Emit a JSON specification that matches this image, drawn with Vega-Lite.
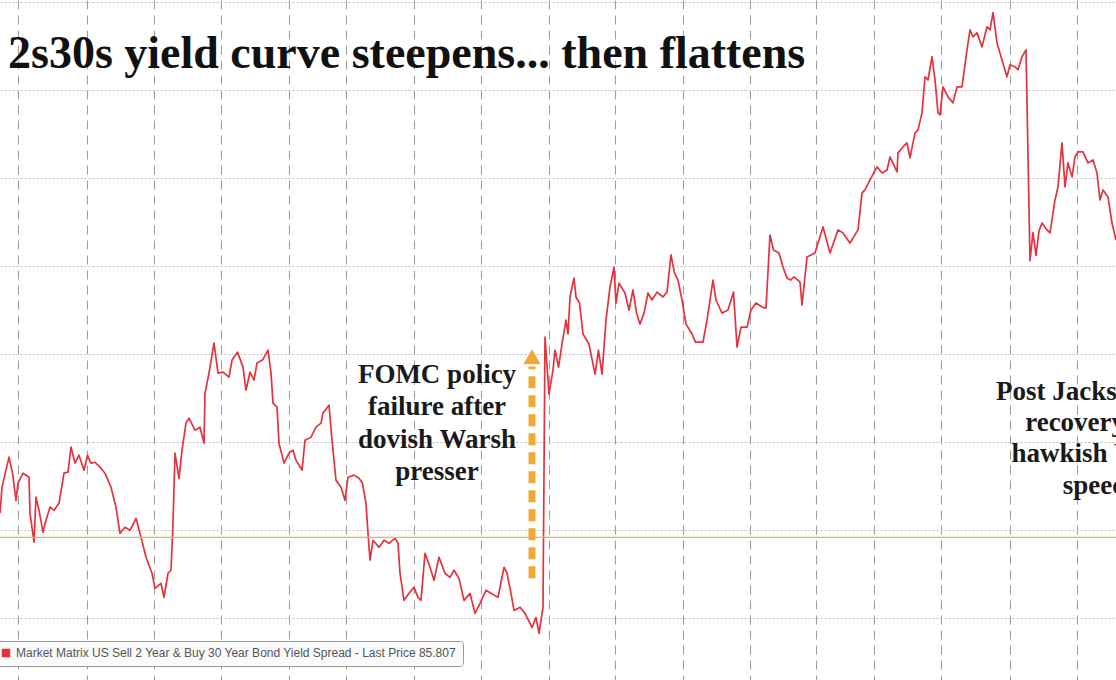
{
  "$schema": "https://vega.github.io/schema/vega-lite/v6.json",
  "width": 1116,
  "height": 680,
  "autosize": {"type": "none"},
  "padding": 0,
  "background": "white",
  "datasets": {
    "spread": [
      {"day": 0, "spread": 65.97}, {"day": 1, "spread": 67.44}, {"day": 4.5, "spread": 69.15}, {"day": 6.25, "spread": 68.24},
      {"day": 8, "spread": 66.7}, {"day": 9, "spread": 67.67}, {"day": 11.5, "spread": 68.24}, {"day": 14.5, "spread": 68.01},
      {"day": 15, "spread": 65.97}, {"day": 17, "spread": 64.32}, {"day": 18, "spread": 66.88}, {"day": 19.5, "spread": 66.14},
      {"day": 21.5, "spread": 64.89}, {"day": 23, "spread": 65.57}, {"day": 25, "spread": 66.31}, {"day": 27, "spread": 66.14},
      {"day": 29.5, "spread": 66.53}, {"day": 32, "spread": 68.24}, {"day": 34, "spread": 68.3}, {"day": 35.5, "spread": 69.72},
      {"day": 37.5, "spread": 68.81}, {"day": 39.5, "spread": 69.26}, {"day": 42, "spread": 68.41}, {"day": 43.75, "spread": 69.26},
      {"day": 45.5, "spread": 68.81}, {"day": 47.5, "spread": 68.86}, {"day": 50, "spread": 68.58}, {"day": 52.5, "spread": 68.24},
      {"day": 55.5, "spread": 67.44}, {"day": 58, "spread": 66.31}, {"day": 60, "spread": 64.83}, {"day": 62.5, "spread": 65.17},
      {"day": 65, "spread": 65.0}, {"day": 68, "spread": 65.68}, {"day": 70.5, "spread": 64.6}, {"day": 73, "spread": 63.47},
      {"day": 76, "spread": 62.56}, {"day": 77.5, "spread": 61.7}, {"day": 80.5, "spread": 61.99}, {"day": 82, "spread": 61.19},
      {"day": 84, "spread": 62.56}, {"day": 85.5, "spread": 62.73}, {"day": 86.5, "spread": 65.4}, {"day": 87.5, "spread": 69.38},
      {"day": 89.5, "spread": 67.95}, {"day": 91, "spread": 69.55}, {"day": 93, "spread": 71.08}, {"day": 94.5, "spread": 71.36},
      {"day": 97.5, "spread": 70.68}, {"day": 100, "spread": 70.85}, {"day": 102, "spread": 69.94}, {"day": 102.5, "spread": 72.78},
      {"day": 104.5, "spread": 73.92}, {"day": 107, "spread": 75.63}, {"day": 109, "spread": 73.92}, {"day": 111.5, "spread": 73.98},
      {"day": 114.5, "spread": 73.69}, {"day": 116, "spread": 74.66}, {"day": 118.75, "spread": 75.11}, {"day": 121.5, "spread": 74.26},
      {"day": 123, "spread": 72.95}, {"day": 125, "spread": 73.98}, {"day": 127, "spread": 73.52}, {"day": 128.5, "spread": 74.49},
      {"day": 131.25, "spread": 74.66}, {"day": 134, "spread": 75.23}, {"day": 135.5, "spread": 73.92}, {"day": 136.5, "spread": 72.22},
      {"day": 138.5, "spread": 71.99}, {"day": 139.5, "spread": 69.94}, {"day": 142, "spread": 68.81}, {"day": 144.5, "spread": 69.38},
      {"day": 146.5, "spread": 69.55}, {"day": 148, "spread": 68.98}, {"day": 151, "spread": 68.41}, {"day": 152.5, "spread": 70.11},
      {"day": 155.5, "spread": 70.28}, {"day": 158, "spread": 70.85}, {"day": 160.5, "spread": 71.08}, {"day": 161.5, "spread": 71.65},
      {"day": 164.5, "spread": 72.1}, {"day": 166, "spread": 70.11}, {"day": 168, "spread": 67.84}, {"day": 170.5, "spread": 67.44},
      {"day": 172.5, "spread": 66.7}, {"day": 174, "spread": 68.01}, {"day": 177, "spread": 68.13}, {"day": 179.5, "spread": 67.95},
      {"day": 181.25, "spread": 67.67}, {"day": 183, "spread": 66.53}, {"day": 184, "spread": 64.83}, {"day": 185, "spread": 63.3},
      {"day": 186.5, "spread": 64.43}, {"day": 189.5, "spread": 64.03}, {"day": 192, "spread": 64.43}, {"day": 194.5, "spread": 64.26},
      {"day": 197.5, "spread": 64.55}, {"day": 199, "spread": 64.26}, {"day": 200, "spread": 62.56}, {"day": 202, "spread": 61.02},
      {"day": 204.5, "spread": 61.42}, {"day": 207, "spread": 61.76}, {"day": 209, "spread": 61.19}, {"day": 210.5, "spread": 61.02},
      {"day": 212.5, "spread": 63.69}, {"day": 215, "spread": 62.9}, {"day": 217, "spread": 62.16}, {"day": 219.5, "spread": 63.47},
      {"day": 222.5, "spread": 62.56}, {"day": 225, "spread": 62.33}, {"day": 227, "spread": 62.73}, {"day": 229.5, "spread": 62.27},
      {"day": 232, "spread": 61.02}, {"day": 235, "spread": 61.42}, {"day": 237.5, "spread": 60.28}, {"day": 240, "spread": 60.85},
      {"day": 243, "spread": 61.59}, {"day": 245.5, "spread": 61.42}, {"day": 249, "spread": 61.19}, {"day": 252, "spread": 62.9},
      {"day": 253.5, "spread": 62.56}, {"day": 255.5, "spread": 61.42}, {"day": 257, "spread": 60.45}, {"day": 260, "spread": 60.63},
      {"day": 262.5, "spread": 60.28}, {"day": 266, "spread": 59.49}, {"day": 268, "spread": 60.06}, {"day": 269.5, "spread": 59.15},
      {"day": 271.5, "spread": 60.63}, {"day": 272.5, "spread": 75.97}, {"day": 274.5, "spread": 72.73}, {"day": 276.5, "spread": 74.09},
      {"day": 277.5, "spread": 75.23}, {"day": 279.25, "spread": 74.26}, {"day": 281, "spread": 75.57}, {"day": 283, "spread": 76.93},
      {"day": 284, "spread": 76.14}, {"day": 285, "spread": 78.24}, {"day": 287, "spread": 79.32}, {"day": 288, "spread": 78.24},
      {"day": 289.75, "spread": 77.9}, {"day": 291.5, "spread": 76.14}, {"day": 294.5, "spread": 75.57}, {"day": 297.5, "spread": 73.86},
      {"day": 299.25, "spread": 75.23}, {"day": 301, "spread": 73.86}, {"day": 303, "spread": 76.93}, {"day": 305, "spread": 78.81},
      {"day": 307, "spread": 79.94}, {"day": 308, "spread": 77.9}, {"day": 309.5, "spread": 79.03}, {"day": 312.5, "spread": 78.47},
      {"day": 314.5, "spread": 77.5}, {"day": 316.5, "spread": 78.64}, {"day": 318.25, "spread": 77.33}, {"day": 320, "spread": 76.7},
      {"day": 322, "spread": 77.33}, {"day": 324, "spread": 78.47}, {"day": 326, "spread": 78.07}, {"day": 328.5, "spread": 78.52},
      {"day": 331.5, "spread": 78.24}, {"day": 333.5, "spread": 78.52}, {"day": 335.5, "spread": 80.63}, {"day": 337.25, "spread": 79.6},
      {"day": 339, "spread": 79.2}, {"day": 341, "spread": 78.07}, {"day": 343, "spread": 76.7}, {"day": 346, "spread": 76.14},
      {"day": 347.75, "spread": 75.68}, {"day": 351.5, "spread": 75.68}, {"day": 353.5, "spread": 76.93}, {"day": 356.5, "spread": 79.2},
      {"day": 358, "spread": 78.07}, {"day": 361, "spread": 77.33}, {"day": 364, "spread": 77.5}, {"day": 366.75, "spread": 78.52},
      {"day": 368.5, "spread": 75.4}, {"day": 370.5, "spread": 76.53}, {"day": 373.5, "spread": 76.53}, {"day": 375.5, "spread": 77.5},
      {"day": 378, "spread": 77.9}, {"day": 381, "spread": 77.67}, {"day": 383, "spread": 77.61}, {"day": 385, "spread": 81.76},
      {"day": 386.75, "spread": 80.91}, {"day": 389.5, "spread": 80.74}, {"day": 391.5, "spread": 79.94}, {"day": 393.5, "spread": 79.32},
      {"day": 395.25, "spread": 79.2}, {"day": 397, "spread": 79.38}, {"day": 400, "spread": 79.09}, {"day": 401, "spread": 77.78},
      {"day": 403.5, "spread": 80.51}, {"day": 407.5, "spread": 80.74}, {"day": 411.5, "spread": 82.22}, {"day": 415, "spread": 80.74},
      {"day": 419, "spread": 82.05}, {"day": 421.5, "spread": 81.88}, {"day": 425, "spread": 81.31}, {"day": 429, "spread": 82.05},
      {"day": 431, "spread": 84.15}, {"day": 432.5, "spread": 84.32}, {"day": 435, "spread": 84.89}, {"day": 438.5, "spread": 85.63},
      {"day": 441, "spread": 85.28}, {"day": 443.5, "spread": 85.45}, {"day": 445, "spread": 86.19}, {"day": 448.5, "spread": 85.34},
      {"day": 449, "spread": 86.42}, {"day": 451.5, "spread": 86.76}, {"day": 453.5, "spread": 86.99}, {"day": 455, "spread": 86.14},
      {"day": 457.5, "spread": 87.56}, {"day": 459, "spread": 87.73}, {"day": 461, "spread": 88.69}, {"day": 462.5, "spread": 90.74},
      {"day": 464, "spread": 90.57}, {"day": 466, "spread": 91.88}, {"day": 467.5, "spread": 90.57}, {"day": 469, "spread": 88.69},
      {"day": 470, "spread": 88.58}, {"day": 471.5, "spread": 90.17}, {"day": 474, "spread": 89.6}, {"day": 476.5, "spread": 89.26},
      {"day": 478.5, "spread": 90.17}, {"day": 481, "spread": 90.17}, {"day": 483.5, "spread": 92.27}, {"day": 485, "spread": 93.41},
      {"day": 486.5, "spread": 93.01}, {"day": 488.5, "spread": 93.24}, {"day": 491, "spread": 92.44}, {"day": 493.5, "spread": 93.58},
      {"day": 495, "spread": 93.41}, {"day": 496.5, "spread": 94.38}, {"day": 498.5, "spread": 92.67}, {"day": 501, "spread": 91.7},
      {"day": 503.5, "spread": 90.74}, {"day": 505, "spread": 91.42}, {"day": 507.5, "spread": 91.31}, {"day": 509, "spread": 91.14},
      {"day": 511, "spread": 91.88}, {"day": 513, "spread": 92.27}, {"day": 515, "spread": 80.3}, {"day": 516.5, "spread": 81.9},
      {"day": 518, "spread": 80.6}, {"day": 519.5, "spread": 82.0}, {"day": 521, "spread": 82.44}, {"day": 523.5, "spread": 82.05},
      {"day": 525, "spread": 81.88}, {"day": 527.5, "spread": 83.75}, {"day": 529, "spread": 84.49}, {"day": 531, "spread": 86.99},
      {"day": 532.5, "spread": 84.49}, {"day": 534, "spread": 85.85}, {"day": 536, "spread": 85.06}, {"day": 537.5, "spread": 86.19},
      {"day": 539, "spread": 86.48}, {"day": 541.5, "spread": 86.48}, {"day": 544, "spread": 85.85}, {"day": 546.5, "spread": 86.02},
      {"day": 548.5, "spread": 85.28}, {"day": 550, "spread": 83.75}, {"day": 551.5, "spread": 84.32}, {"day": 554, "spread": 83.92},
      {"day": 556, "spread": 82.44}, {"day": 558, "spread": 81.48}
    ],
    "level": [{"spread": 64.6}],
    "arrow": [{"day": 266, "spread": 62.27, "to": 74.3, "tip": 74.85}],
    "headline": [{"day": 4, "spread": 91.25, "label": "2s30s yield curve steepens... then flattens"}],
    "notes": [
      {"day": 218.5, "spread": 73.8, "label": "FOMC policy"},
      {"day": 218.5, "spread": 71.98, "label": "failure after"},
      {"day": 218.5, "spread": 70.1, "label": "dovish Warsh"},
      {"day": 218.5, "spread": 68.3, "label": "presser"},
      {"day": 550.5, "spread": 72.84, "label": "Post Jackson Hole"},
      {"day": 550.5, "spread": 71.08, "label": "recovery into"},
      {"day": 550.5, "spread": 69.32, "label": "hawkish Warsh"},
      {"day": 550.5, "spread": 67.5, "label": "speech"}
    ]
  },
  "layer": [
    {
      "data": {"name": "spread"},
      "mark": {"type": "line", "strokeWidth": 1.7, "strokeJoin": "round"},
      "encoding": {
        "x": {
          "field": "day",
          "type": "quantitative",
          "scale": {"domain": [0, 558], "nice": false, "zero": false},
          "axis": {
            "values": [9, 26.5, 43.5, 60.5, 77, 94, 110.5, 127.5, 144.5, 156, 173, 190.5, 207, 224, 240.5, 257, 274.5, 291, 307.5, 325, 341.5, 358, 375, 391.5, 408, 420.5, 437, 454, 470.5, 487.5, 505, 522, 538.5, 555],
            "grid": true, "gridDash": [9, 6], "gridColor": "#9e9e9e", "gridWidth": 1.1,
            "labels": false, "ticks": false, "domain": false, "title": null
          }
        },
        "y": {
          "field": "spread",
          "type": "quantitative",
          "scale": {"domain": [56.5, 95.1], "nice": false, "zero": false},
          "axis": {
            "values": [60, 65, 70, 75, 80, 85, 90, 95],
            "grid": true, "gridDash": [2, 2], "gridColor": "#bcbcbc", "gridWidth": 1,
            "labels": false, "ticks": false, "domain": false, "title": null
          }
        },
        "color": {
          "datum": "Market Matrix US Sell 2 Year & Buy 30 Year Bond Yield Spread - Last Price 85.807",
          "type": "nominal",
          "scale": {"range": ["#e2343f"]},
          "legend": {
            "title": null, "orient": "none", "legendX": -6, "legendY": 641,
            "symbolType": "square", "symbolSize": 50, "symbolFillColor": "#e2343f", "symbolStrokeColor": "#e2343f",
            "labelFont": "Liberation Sans", "labelFontSize": 12, "labelColor": "#555555", "labelLimit": 0,
            "padding": 6, "strokeColor": "#9a9a9a", "fillColor": "#fafafa", "cornerRadius": 3
          }
        }
      }
    },
    {
      "data": {"name": "level"},
      "mark": {"type": "rule", "color": "#f4b340", "strokeWidth": 1.2},
      "encoding": {"y": {"field": "spread", "type": "quantitative"}}
    },
    {
      "data": {"name": "arrow"},
      "mark": {"type": "rule", "color": "#f0a935", "strokeWidth": 7, "strokeDash": [12, 7], "strokeCap": "butt"},
      "encoding": {
        "x": {"field": "day", "type": "quantitative"},
        "y": {"field": "spread", "type": "quantitative"},
        "y2": {"field": "to"}
      }
    },
    {
      "data": {"name": "arrow"},
      "mark": {"type": "point", "shape": "triangle-up", "filled": true, "color": "#f0a935", "size": 300, "opacity": 1},
      "encoding": {
        "x": {"field": "day", "type": "quantitative"},
        "y": {"field": "tip", "type": "quantitative"}
      }
    },
    {
      "data": {"name": "headline"},
      "mark": {"type": "text", "align": "left", "baseline": "alphabetic", "font": "Liberation Serif", "fontWeight": "bold", "fontSize": 46, "color": "#111111"},
      "encoding": {
        "x": {"field": "day", "type": "quantitative"},
        "y": {"field": "spread", "type": "quantitative"},
        "text": {"field": "label"}
      }
    },
    {
      "data": {"name": "notes"},
      "mark": {"type": "text", "align": "center", "baseline": "middle", "font": "Liberation Serif", "fontWeight": "bold", "fontSize": 27, "color": "#1a1a1a"},
      "encoding": {
        "x": {"field": "day", "type": "quantitative"},
        "y": {"field": "spread", "type": "quantitative"},
        "text": {"field": "label"}
      }
    }
  ],
  "config": {"view": {"stroke": null}}
}
